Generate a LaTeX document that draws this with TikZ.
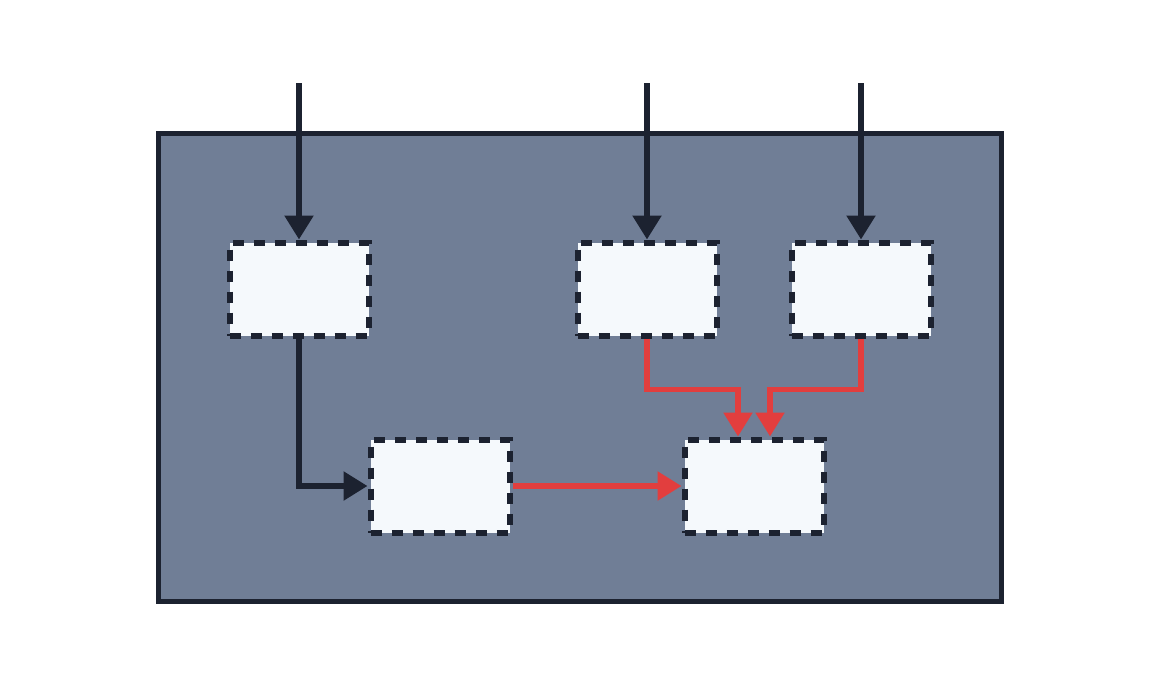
\documentclass[tikz,border=0pt]{standalone}
\usetikzlibrary{arrows.meta}
\definecolor{edgeblack}{HTML}{1C2230}
\definecolor{slate}{HTML}{707E96}
\definecolor{paper}{HTML}{F5F9FC}
\definecolor{hotred}{HTML}{E23E3E}
\tikzset{
  unitbox/.style={draw=edgeblack, fill=paper, line width=6pt,
    dash pattern=on 11pt off 10pt, minimum width=139pt, minimum height=93pt,
    inner sep=0pt},
  feed/.style={draw=edgeblack, line width=5.5pt,
    -{Triangle[length=24pt, width=28pt]}},
  hotfeed/.style={feed, draw=hotred}
}
\begin{document}
\begin{tikzpicture}[x=1pt, y=-1pt]
			%%%%% START %%%%%
			
			\useasboundingbox (0, 0) rectangle (1159, 688);
			
			\draw[line width=5pt, draw=edgeblack, fill=slate] (158, 133) rectangle (1001, 601);
			
			\node[unitbox] (left) at (299, 289) {};
			\node[unitbox] (mid) at (647, 289) {};
			\node[unitbox] (right) at (861, 289) {};
			\node[unitbox] (merge) at (440, 486) {};
			\node[unitbox] (sink) at (754, 486) {};
			
			\coordinate (inL) at (299, 83);
			\coordinate (inM) at (647, 83);
			\coordinate (inR) at (861, 83);
			
			\draw[feed] (inL) -- (left.north);
			\draw[feed] (inM) -- (mid.north);
			\draw[feed] (inR) -- (right.north);
			
			\draw[feed] (left.south) |- (merge.west);
			\draw[hotfeed] (merge.east) -- (sink.west);
			
			\draw[hotfeed] (mid.south) -- ++(0, 51) -| ([xshift=-16pt]sink.north);
			\draw[hotfeed] (right.south) -- ++(0, 51) -| ([xshift=16pt]sink.north);
			
			%%%%% END %%%%%
\end{tikzpicture}
\end{document}
